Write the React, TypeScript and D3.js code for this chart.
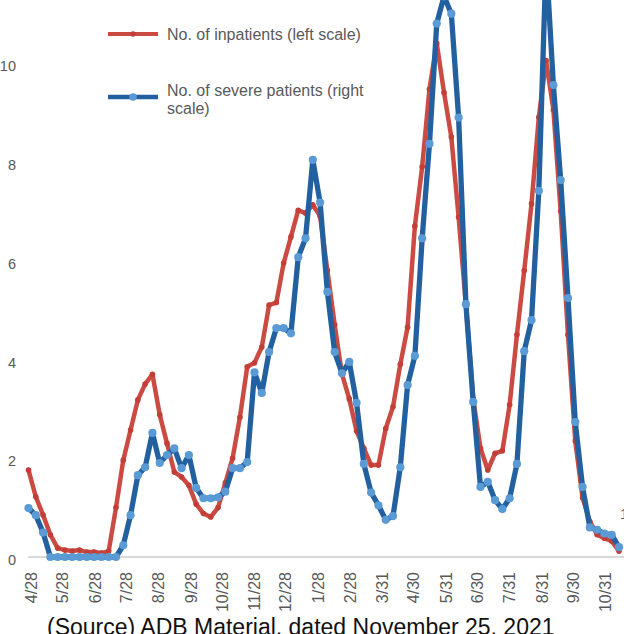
import React, { useMemo } from 'react'
import * as d3 from 'd3'

// weekly figures, first week starting 2020-04-25
const START_DATE = '2020-04-25'

// No. of inpatients (left scale)
const inpatients = [
  1.76, 1.22, 0.85, 0.45, 0.18, 0.14, 0.12, 0.14, 0.1, 0.1, 0.08, 0.12,
  1.0, 1.96, 2.57, 3.18, 3.5, 3.7, 2.88, 2.3, 1.72, 1.62, 1.45, 1.07,
  0.88, 0.81, 1.0, 1.5, 2.0, 2.83, 3.85, 3.93, 4.25, 5.1, 5.15, 5.95,
  6.48, 7.02, 6.96, 7.13, 6.9, 5.8, 4.7, 3.7, 3.2, 2.55, 2.2, 1.86,
  1.86, 2.6, 3.04, 3.9, 4.65, 6.7, 7.9, 9.47, 10.4, 9.4, 8.5, 6.88,
  5.1, 3.2, 2.2, 1.76, 2.1, 2.15, 3.08, 4.5, 5.8, 7.15, 8.9, 10.05,
  9.05, 7.0, 4.5, 2.35, 1.2, 0.72, 0.45, 0.38, 0.32, 0.12
]

// No. of severe patients (right scale)
const severe = [
  104, 89, 52, 0, 0, 0, 0, 0, 0, 0, 0, 0,
  0, 25, 89, 174, 191, 264, 200, 217, 231, 189, 217, 147,
  125, 125, 127, 139, 189, 189, 202, 393, 349, 436, 487, 487,
  476, 638, 678, 845, 754, 564, 436, 391, 415, 328, 198, 137,
  110, 79, 87, 191, 366, 428, 678, 879, 1135, 1193, 1156, 935,
  538, 330, 149, 160, 121, 102, 125, 198, 438, 504, 779, 1272,
  1004, 802, 551, 287, 149, 63, 58, 50, 47, 21
]

const tickDates = [
  '2020-04-28', '2020-05-28', '2020-06-28', '2020-07-28', '2020-08-28',
  '2020-09-28', '2020-10-28', '2020-11-28', '2020-12-28', '2021-01-28',
  '2021-02-28', '2021-03-31', '2021-04-30', '2021-05-31', '2021-06-30',
  '2021-07-31', '2021-08-31', '2021-09-30', '2021-10-31'
]
const leftTicks = [0, 2, 4, 6, 8, 10]
const rightTicks = [100]

const RED = '#CB4B43'
const RED_DOT = '#C23E37'
const BLUE = '#22609F'
const BLUE_DOT = '#5B9BD5'
const GREY_TEXT = '#595959'
const FONT = '"Liberation Sans", Arial, sans-serif'

const W = 624
const H = 634

export default function App() {
  const parse = d3.timeParse('%Y-%m-%d')
  const fmt = d3.timeFormat('%-m/%-d')

  const { x, yL, yR, red, blue, ticks } = useMemo(() => {
    const start = parse(START_DATE) as Date
    const dates = inpatients.map((_, i) => d3.timeDay.offset(start, 7 * i))
    const x = d3.scaleTime()
      .domain([dates[0], dates[dates.length - 1]])
      .range([28.5, 619])
    const yL = d3.scaleLinear().domain([0, 10]).range([557, 63])
    const yR = d3.scaleLinear().domain([0, 100]).range([557, 510])
    const red = inpatients.map((v, i) => ({ d: dates[i], v }))
    const blue = severe.map((v, i) => ({ d: dates[i], v }))
    const ticks = tickDates.map(s => parse(s) as Date)
    return { x, yL, yR, red, blue, ticks }
  }, [])

  const redLine = d3.line<{ d: Date; v: number }>()
    .x(p => x(p.d))
    .y(p => yL(p.v))
  const blueLine = d3.line<{ d: Date; v: number }>()
    .x(p => x(p.d))
    .y(p => yR(p.v))

  return (
    <svg
      width={W}
      height={H}
      style={{ position: 'absolute', left: 0, top: 0, background: '#fff' }}
      fontFamily={FONT}
    >
      {/* baseline */}
      <line x1={28} x2={W} y1={yL(0)} y2={yL(0)} stroke="#D9D9D9" strokeWidth={2} />

      {/* left axis labels */}
      {leftTicks.map(t => (
        <text key={t} x={16} y={yL(t)} dy="0.57em" textAnchor="end" fontSize={14.5} fill={GREY_TEXT}>
          {t}
        </text>
      ))}

      {/* right axis labels (mostly outside the crop) */}
      {rightTicks.map(t => (
        <text key={t} x={620} y={yR(t)} dy="0.57em" fontSize={15} fill={GREY_TEXT}>
          {t}
        </text>
      ))}

      {/* x labels */}
      {ticks.map((d, i) => (
        <text
          key={i}
          transform={`translate(${x(d)},572) rotate(-90)`}
          dy="0.35em"
          textAnchor="end"
          fontSize={16}
          fill={GREY_TEXT}
        >
          {fmt(d)}
        </text>
      ))}

      {/* inpatients */}
      <path d={redLine(red) || ''} fill="none" stroke={RED} strokeWidth={4.5} strokeLinejoin="round" strokeLinecap="round" />
      {red.map((p, i) => (
        <circle key={i} cx={x(p.d)} cy={yL(p.v)} r={2.8} fill={RED_DOT} />
      ))}

      {/* severe */}
      <path d={blueLine(blue) || ''} fill="none" stroke={BLUE} strokeWidth={5.3} strokeLinejoin="round" strokeLinecap="round" />
      {blue.map((p, i) => (
        <circle key={i} cx={x(p.d)} cy={yR(p.v)} r={4.1} fill={BLUE_DOT} />
      ))}

      {/* legend */}
      <g>
        <line x1={108} x2={158} y1={34} y2={34} stroke={RED} strokeWidth={4} />
        <circle cx={133} cy={34} r={2.8} fill={RED_DOT} />
        <text x={167} y={34} dy="0.36em" fontSize={16} fill={GREY_TEXT}>
          No. of inpatients (left scale)
        </text>
        <line x1={108} x2={158} y1={97} y2={97} stroke={BLUE} strokeWidth={4.6} />
        <circle cx={133} cy={97} r={3.8} fill={BLUE_DOT} />
        <text x={167} y={90} dy="0.36em" fontSize={16} fill={GREY_TEXT}>
          No. of severe patients (right
        </text>
        <text x={167} y={108} dy="0.36em" fontSize={16} fill={GREY_TEXT}>
          scale)
        </text>
      </g>

      {/* source note */}
      <text x={47} y={635} fontSize={23} fill="#111">
        (Source) ADB Material, dated November 25, 2021
      </text>
    </svg>
  )
}
